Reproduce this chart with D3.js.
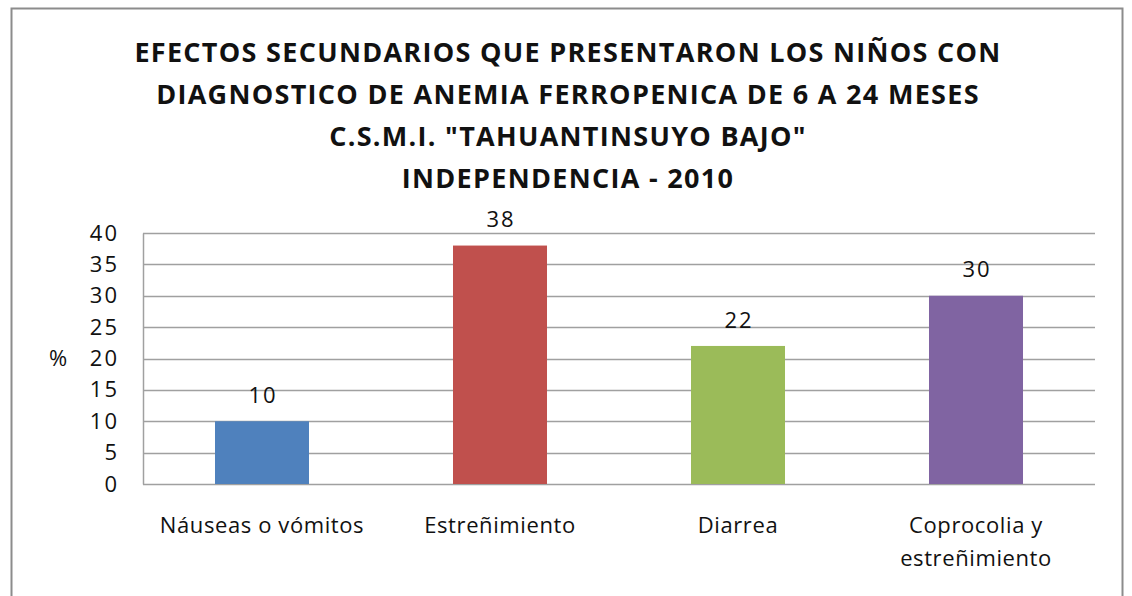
<!DOCTYPE html>
<html>
<head>
<meta charset="utf-8">
<script src="https://cdn.jsdelivr.net/npm/d3@7"></script>
<style>
  body { margin: 0; background: #fff; }
  svg text { font-family: "Open Sans", Lato, sans-serif; }
</style>
</head>
<body>
<div id="chart"></div>
<script>
// chart data
var categories = ["Náuseas o vómitos", "Estreñimiento", "Diarrea", "Coprocolia y estreñimiento"];
var values = [10, 38, 22, 30];
var barColors = ["#4F81BD", "#C0504D", "#9BBB59", "#8064A2"];
var yTicks = [0, 5, 10, 15, 20, 25, 30, 35, 40];
var titleLines = [
    "EFECTOS SECUNDARIOS QUE PRESENTARON LOS NIÑOS CON",
    "DIAGNOSTICO DE ANEMIA FERROPENICA DE 6 A 24 MESES",
    "C.S.M.I. \"TAHUANTINSUYO BAJO\"",
    "INDEPENDENCIA - 2010"
];

var width = 1132, height = 596;
var margin = {top: 233, right: 37, bottom: 112, left: 143};

var svg = d3.select("#chart")
    .append("svg")
    .attr("width", width)
    .attr("height", height);

// outer frame
svg.append("rect")
    .attr("x", 11.5)
    .attr("y", 8.5)
    .attr("width", 1111)
    .attr("height", 620)
    .attr("fill", "#fff")
    .attr("stroke", "#8c8c8c")
    .attr("stroke-width", 2);

var x = d3.scaleBand()
    .domain(categories)
    .range([margin.left, width - margin.right])
    .paddingInner(0.605)
    .paddingOuter(0.3025);

var y = d3.scaleLinear()
    .domain([0, 40])
    .range([height - margin.bottom, margin.top]);

// gridlines
svg.append("g")
    .selectAll("line")
    .data(yTicks)
    .enter()
    .append("line")
    .attr("x1", margin.left)
    .attr("x2", width - margin.right)
    .attr("y1", function (d) { return Math.round(y(d)) + 0.5; })
    .attr("y2", function (d) { return Math.round(y(d)) + 0.5; })
    .attr("stroke", "#a0a0a0")
    .attr("stroke-width", 1.5);

// y axis
var yAxis = svg.append("g")
    .attr("transform", "translate(" + margin.left + ",0)")
    .call(d3.axisLeft(y).tickValues(yTicks).tickSize(0).tickPadding(24));
yAxis.select(".domain").attr("stroke", "#a0a0a0").attr("stroke-width", 1.5);
yAxis.selectAll("text")
    .attr("font-family", "'Open Sans', sans-serif")
    .attr("font-size", 22)
    .attr("letter-spacing", "2px")
    .attr("fill", "#111");

svg.append("text")
    .attr("x", 58)
    .attr("y", y(20))
    .attr("dy", "0.35em")
    .attr("text-anchor", "middle")
    .attr("font-size", 22)
    .attr("fill", "#111")
    .text("%");

// bars
svg.append("g")
    .selectAll("rect")
    .data(values)
    .enter()
    .append("rect")
    .attr("x", function (d, i) { return x(categories[i]); })
    .attr("y", function (d) { return y(d); })
    .attr("width", x.bandwidth())
    .attr("height", function (d) { return y(0) - y(d); })
    .attr("fill", function (d, i) { return barColors[i]; });

// value labels
svg.append("g")
    .selectAll("text")
    .data(values)
    .enter()
    .append("text")
    .attr("x", function (d, i) { return x(categories[i]) + x.bandwidth() / 2 + 1; })
    .attr("y", function (d) { return y(d) - 26; })
    .attr("dy", "0.35em")
    .attr("text-anchor", "middle")
    .attr("font-size", 22)
    .attr("letter-spacing", "2px")
    .attr("fill", "#111")
    .text(function (d) { return d; });

// x axis labels (wrapped like the original)
var xLabels = svg.append("g")
    .selectAll("text")
    .data(categories)
    .enter()
    .append("text")
    .attr("x", function (d) { return x(d) + x.bandwidth() / 2; })
    .attr("y", 525)
    .attr("text-anchor", "middle")
    .attr("font-size", 22)
    .attr("letter-spacing", "0.6px")
    .attr("fill", "#111");

xLabels.each(function (d) {
    var lines = d === "Coprocolia y estreñimiento" ? ["Coprocolia y", "estreñimiento"] : [d];
    var t = d3.select(this);
    lines.forEach(function (l, i) {
        t.append("tspan")
            .attr("x", t.attr("x"))
            .attr("dy", i === 0 ? "0.35em" : "1.5em")
            .text(l);
    });
});

// title
svg.append("g")
    .selectAll("text")
    .data(titleLines)
    .enter()
    .append("text")
    .attr("x", 568)
    .attr("y", function (d, i) { return 53 + i * 42; })
    .attr("dy", "0.35em")
    .attr("text-anchor", "middle")
    .attr("font-size", 27)
    .attr("letter-spacing", "1.3px")
    .attr("font-weight", "bold")
    .attr("fill", "#111")
    .text(function (d) { return d; });
</script>
</body>
</html>
